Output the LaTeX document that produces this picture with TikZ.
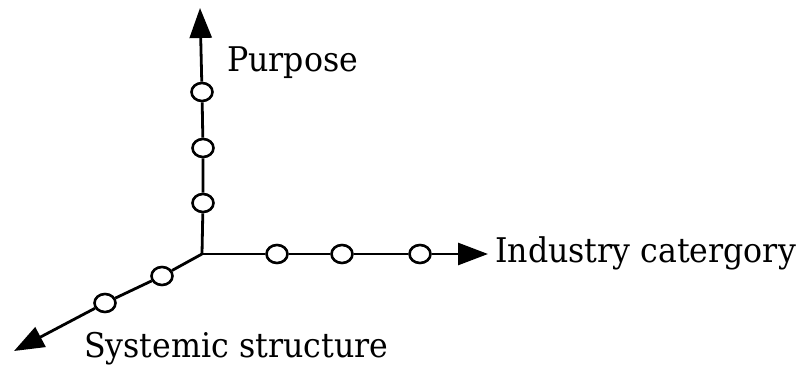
\documentclass[tikz,border=0pt]{standalone}
\usepackage{fontspec}
\setmainfont[FakeStretch=0.93]{DejaVu Serif}
\usetikzlibrary{arrows.meta,shapes.geometric}
\begin{document}
\begin{tikzpicture}[x=1pt,y=-1pt,
  axis/.style={line width=2.8pt,-{Triangle[length=30pt,width=22pt]}},
  seg/.style={line width=2.8pt},
  tick/.style={ellipse,draw,line width=2.6pt,fill=white,minimum width=21pt,minimum height=18pt,inner sep=0pt},
  lbl/.style={anchor=base west,inner sep=0pt,font=\fontsize{34}{40}\selectfont}]
\useasboundingbox (0,0) rectangle (804,366);
% origin of the three axes
\coordinate (o) at (202,254);
% vertical axis
\node[tick] (v1) at (203,203) {};
\node[tick] (v2) at (203,148) {};
\node[tick] (v3) at (202,92) {};
\coordinate (vt) at (200,8);
% horizontal axis
\node[tick] (h1) at (277,254) {};
\node[tick] (h2) at (342,254) {};
\node[tick] (h3) at (420,254) {};
\coordinate (ht) at (488,254);
% diagonal axis
\node[tick] (d1) at (162,276) {};
\node[tick] (d2) at (105,303) {};
\coordinate (dt) at (14,351);
\draw[seg] (o) -- (v1) -- (v2) -- (v3);
\draw[axis] (v3) -- (vt);
\draw[seg] (o) -- (h1) -- (h2) -- (h3);
\draw[axis] (h3) -- (ht);
\draw[seg] (o) -- (d1) -- (d2);
\draw[axis] (d2) -- (dt);
% labels
\node[lbl] (lp) at (227,72) {Purpose};
\node[lbl] (li) at (495,263) {Industry catergory};
\node[lbl] (ls) at (84,357) {Systemic structure};
\end{tikzpicture}
\end{document}
